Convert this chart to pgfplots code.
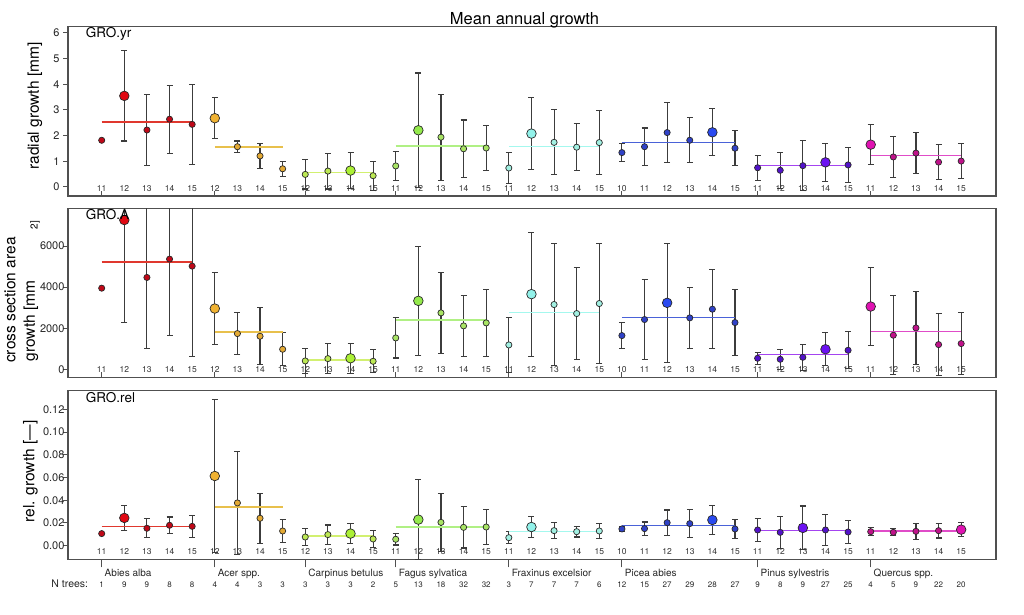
\documentclass[border=0pt]{standalone}
\usepackage{fontspec}
\setmainfont{TeX Gyre Heros}
\usepackage{pgfplots}
\usepackage{pgfplotstable}
\pgfplotsset{compat=1.18}

\definecolor{axc}{HTML}{505050}
\definecolor{errc}{HTML}{3C3C3C}
\definecolor{mkd}{HTML}{282828}
\definecolor{abL}{HTML}{E0382E}\definecolor{abS}{HTML}{C00818}\definecolor{abB}{HTML}{E00812}
\definecolor{acL}{HTML}{E8C04C}\definecolor{acS}{HTML}{E4AA34}\definecolor{acB}{HTML}{F0B232}
\definecolor{caL}{HTML}{D2F070}\definecolor{caS}{HTML}{BCE854}\definecolor{caB}{HTML}{ABF034}
\definecolor{faL}{HTML}{B0F084}\definecolor{faS}{HTML}{A8E464}\definecolor{faB}{HTML}{94EA4C}
\definecolor{frL}{HTML}{A4F8EE}\definecolor{frS}{HTML}{A2F0E2}\definecolor{frB}{HTML}{92F2EA}
\definecolor{pcL}{HTML}{4A62D8}\definecolor{pcS}{HTML}{3042C8}\definecolor{pcB}{HTML}{2A4AF0}
\definecolor{pnL}{HTML}{A444F0}\definecolor{pnS}{HTML}{5212CA}\definecolor{pnB}{HTML}{6C12F2}
\definecolor{quL}{HTML}{E04CC8}\definecolor{quS}{HTML}{C0128A}\definecolor{quB}{HTML}{E012B2}

% radial growth [mm]
\pgfplotstableread{
x yr n m s
0 11 1 1.82 0
1 12 9 3.55 1.76
2 13 9 2.22 1.38
3 14 8 2.64 1.33
4 15 8 2.44 1.57
5 12 4 2.68 0.80
6 13 4 1.57 0.22
7 14 3 1.21 0.50
8 15 3 0.71 0.30
9 12 3 0.49 0.57
10 13 3 0.62 0.70
11 14 3 0.64 0.71
12 15 2 0.44 0.56
13 11 5 0.82 0.57
14 12 13 2.21 2.23
15 13 18 1.94 1.67
16 14 32 1.49 1.12
17 15 32 1.52 0.86
18 11 3 0.74 0.61
19 12 7 2.08 1.40
20 13 7 1.74 1.27
21 14 7 1.55 0.92
22 15 6 1.73 1.24
23 10 12 1.34 0.36
24 11 15 1.57 0.73
25 12 27 2.12 1.17
26 13 29 1.82 0.87
27 14 28 2.13 0.92
28 15 27 1.51 0.68
29 11 9 0.75 0.48
30 12 8 0.65 0.71
31 13 9 0.83 0.98
32 14 27 0.96 0.73
33 15 25 0.86 0.67
34 11 4 1.65 0.79
35 12 5 1.17 0.79
36 13 9 1.32 0.81
37 14 22 0.97 0.68
38 15 20 1.01 0.68
}\Ta

% cross section area growth [mm^2]
\pgfplotstableread{
x yr m s
0 11 3951 0
1 12 7268 4992
2 13 4472 3448
3 14 5366 3707
4 15 5024 4406
5 12 2959 1773
6 13 1740 1040
7 14 1610 1398
8 15 976 796
9 12 407 601
10 13 520 732
11 14 537 731
12 15 390 553
13 11 1528 976
14 12 3333 2650
15 13 2748 1984
16 14 2114 1496
17 15 2260 1626
18 11 1187 1350
19 12 3659 3024
20 13 3154 2960
21 14 2715 2244
22 15 3203 2927
23 10 1642 651
24 11 2423 1935
25 12 3236 2894
26 13 2504 1496
27 14 2927 1919
28 15 2276 1626
29 11 537 292
30 12 488 488
31 13 585 635
32 14 976 796
33 15 927 910
34 11 3057 1919
35 12 1659 1918
36 13 2016 1773
37 14 1203 1512
38 15 1252 1496
}\Tb

% rel. growth
\pgfplotstableread{
x yr m s
0 11 0.0106 0
1 12 0.0244 0.0111
2 13 0.0153 0.0082
3 14 0.0179 0.0073
4 15 0.0170 0.0097
5 12 0.0613 0.0675
6 13 0.0376 0.0451
7 14 0.0241 0.0220
8 15 0.0129 0.0103
9 12 0.0076 0.0074
10 13 0.0097 0.0085
11 14 0.0106 0.0085
12 15 0.0059 0.0076
13 11 0.0056 0.0050
14 12 0.0229 0.0352
15 13 0.0205 0.0253
16 14 0.0161 0.0182
17 15 0.0164 0.0153
18 11 0.0070 0.0053
19 12 0.0164 0.0094
20 13 0.0132 0.0070
21 14 0.0123 0.0047
22 15 0.0129 0.0068
23 10 0.0147 0.0020
24 11 0.0150 0.0058
25 12 0.0202 0.0112
26 13 0.0194 0.0126
27 14 0.0226 0.0126
28 15 0.0147 0.0085
29 11 0.0138 0.0103
30 12 0.0117 0.0141
31 13 0.0156 0.0193
32 14 0.0138 0.0135
33 15 0.0120 0.0103
34 11 0.0123 0.0035
35 12 0.0117 0.0030
36 13 0.0126 0.0068
37 14 0.0132 0.0065
38 15 0.0141 0.0061
}\Tc

\pgfplotsset{
  panel/.style={scale only axis, width=928pt, xmin=-1.49, xmax=39.54,
    anchor=south west,
    axis line style={draw=axc, line width=1.2pt},
    tick align=outside, major tick length=5pt,
    ytick pos=left, xtick pos=bottom,
    tick style={draw=axc, line width=1pt},
    ticklabel style={font=\fontsize{11}{13}\selectfont, text=black!85},
    /pgf/number format/assume math mode=true,
    scaled y ticks=false},
  errplot/.style={only marks, mark=none,
    error bars/.cd, y dir=both, y explicit,
    error bar style={draw=errc, line width=1.1pt},
    error mark options={draw=errc, line width=1.1pt, mark size=3pt, rotate=90}},
  yrlab/.style={only marks, mark=none, nodes near coords, point meta=explicit symbolic,
    every node near coord/.append style={font=\fontsize{8.5}{9}\selectfont, anchor=center, inner sep=0pt, text=black!80}},
}

% #1 table, #2 first x, #3 last x, #4 #5 domain of big marker, #6 colour prefix, #7 group mean
\newcommand{\grp}[7]{%
  \addplot[line width=1.3pt, color=#6L] coordinates {(#2,#7) (#3,#7)};
  \addplot[only marks, mark=*, mark size=3.1pt, mark options={fill=#6S, draw=mkd, line width=0.7pt},
    restrict x to domain=#2:#3] table[x=x, y=m] {#1};
  \addplot[only marks, mark=*, mark size=4.8pt, mark options={fill=#6B, draw=mkd, line width=0.7pt},
    restrict x to domain=#4:#5] table[x=x, y=m] {#1};
}

\begin{document}
\begin{tikzpicture}
\useasboundingbox (0pt,0pt) rectangle (1024pt,614pt);

% ---------- top panel ----------
\begin{axis}[panel, at={(68pt,418pt)}, height=169.3pt,
  ymin=-0.351, ymax=6.245, ytick={0,1,...,6},
  xtick={0,5,9,13,18,23,29,34}, xticklabels={}, xtick style={yshift=5pt}]
\addplot[errplot] table[x=x, y=m, y error=s] {\Ta};
\addplot[yrlab] table[x=x, y expr=-0.05, meta=yr] {\Ta};
\grp{\Ta}{0}{4}{0.9}{1.1}{ab}{2.53}
\grp{\Ta}{5}{8}{4.9}{5.1}{ac}{1.56}
\grp{\Ta}{9}{12}{10.9}{11.1}{ca}{0.56}
\grp{\Ta}{13}{17}{13.9}{14.1}{fa}{1.60}
\grp{\Ta}{18}{22}{18.9}{19.1}{fr}{1.57}
\grp{\Ta}{23}{28}{26.9}{27.1}{pc}{1.74}
\grp{\Ta}{29}{33}{31.9}{32.1}{pn}{0.83}
\grp{\Ta}{34}{38}{33.9}{34.1}{qu}{1.23}
\end{axis}

% ---------- middle panel ----------
\begin{axis}[panel, at={(68pt,236.7pt)}, height=168.6pt,
  ymin=-390, ymax=7821, ytick={0,2000,4000,6000},
  /pgf/number format/1000 sep={},
  yticklabel style={xshift=5pt},
  xtick={0,5,9,13,18,23,29,34}, xticklabels={}, xtick style={yshift=5pt}]
\addplot[errplot] table[x=x, y=m, y error=s] {\Tb};
\addplot[yrlab] table[x=x, y expr=0, meta=yr] {\Tb};
\grp{\Tb}{0}{4}{0.9}{1.1}{ab}{5220}
\grp{\Tb}{5}{8}{4.9}{5.1}{ac}{1821}
\grp{\Tb}{9}{12}{10.9}{11.1}{ca}{455}
\grp{\Tb}{13}{17}{13.9}{14.1}{fa}{2406}
\grp{\Tb}{18}{22}{18.9}{19.1}{fr}{2780}
\grp{\Tb}{23}{28}{24.9}{25.1}{pc}{2520}
\grp{\Tb}{29}{33}{31.9}{32.1}{pn}{715}
\grp{\Tb}{34}{38}{33.9}{34.1}{qu}{1837}
\end{axis}

% ---------- bottom panel ----------
\begin{axis}[panel, at={(68pt,54.7pt)}, height=168.6pt,
  ymin=-0.01203, ymax=0.1364, ytick={0,0.02,...,0.12},
  yticklabel style={xshift=5pt, /pgf/number format/.cd, fixed, fixed zerofill, precision=2},
  xtick=\empty,
  extra x ticks={0,5,9,13,18,23,29,34},
  extra x tick labels={Abies alba, Acer spp., Carpinus betulus, Fagus sylvatica, Fraxinus excelsior, Picea abies, Pinus sylvestris, Quercus spp.},
  extra x tick style={major tick length=8pt},
  xticklabel style={font=\fontsize{10}{12}\selectfont, anchor=base west, text=black!85, yshift=-9.5pt, xshift=-0.5pt}]
\addplot[errplot] table[x=x, y=m, y error=s] {\Tc};
\addplot[yrlab] table[x=x, y expr=-0.0053, meta=yr] {\Tc};
\grp{\Tc}{0}{4}{0.9}{1.1}{ab}{0.0170}
\grp{\Tc}{5}{8}{4.9}{5.1}{ac}{0.0340}
\grp{\Tc}{9}{12}{10.9}{11.1}{ca}{0.0085}
\grp{\Tc}{13}{17}{13.9}{14.1}{fa}{0.0164}
\grp{\Tc}{18}{22}{18.9}{19.1}{fr}{0.0126}
\grp{\Tc}{23}{28}{26.9}{27.1}{pc}{0.0179}
\grp{\Tc}{29}{33}{30.9}{31.1}{pn}{0.0135}
\grp{\Tc}{34}{38}{37.9}{38.1}{qu}{0.0129}
\end{axis}

% ---------- N trees row ----------
\begin{axis}[scale only axis, width=928pt, height=168.6pt, at={(68pt,54.7pt)}, anchor=south west,
  xmin=-1.49, xmax=39.54, ymin=0, ymax=1, hide axis, clip=false]
\addplot[only marks, mark=none, nodes near coords, point meta=explicit symbolic,
  every node near coord/.append style={font=\fontsize{8}{9}\selectfont, anchor=base, inner sep=0pt, text=black!85}]
  table[x=x, y expr=-0.168, meta=n] {\Ta};
\end{axis}

% ---------- texts ----------
\node[anchor=base, inner sep=0pt, font=\fontsize{16.5}{19}\selectfont] at (524.5pt,589pt) {Mean annual growth};
\node[anchor=base west, inner sep=0pt, font=\fontsize{13.5}{16}\selectfont] at (85.7pt,576.3pt) {GRO.yr};
\node[anchor=base west, inner sep=0pt, font=\fontsize{13.5}{16}\selectfont] at (85.7pt,394pt) {GRO.A};
\node[anchor=base west, inner sep=0pt, font=\fontsize{13.5}{16}\selectfont] at (85.7pt,211.7pt) {GRO.rel};
\node[rotate=90, inner sep=0pt, font=\fontsize{15.5}{18}\selectfont] at (35pt,508pt) {radial growth [mm]};
\node[rotate=90, inner sep=0pt, font=\fontsize{15.5}{18}\selectfont] at (10pt,314pt) {cross section area};
\node[rotate=90, inner sep=0pt, font=\fontsize{15.5}{18}\selectfont] at (31pt,293pt) {growth [mm};
\node[rotate=90, inner sep=0pt, font=\fontsize{10}{12}\selectfont] at (35pt,389pt) {2]};
\node[rotate=90, inner sep=0pt, font=\fontsize{15.5}{18}\selectfont] at (30.5pt,142.5pt) {rel. growth [---]};
\node[anchor=base east, inner sep=0pt, font=\fontsize{10.5}{12}\selectfont, text=black!85] at (88.3pt,26.3pt) {N trees:};
\end{tikzpicture}
\end{document}
